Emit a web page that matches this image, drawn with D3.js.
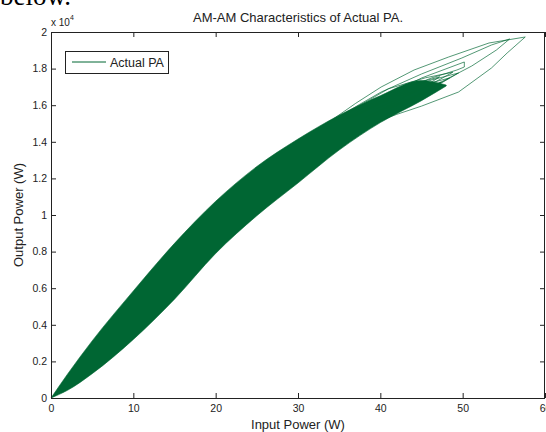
<!DOCTYPE html>
<html lang="en">
  <head>
    <meta charset="UTF-8">
    <title>AM-AM Characteristics of Actual PA.</title>
    <script src="https://cdn.jsdelivr.net/npm/d3@7"></script>
    <style>
      html, body {
        margin: 0;
        padding: 0;
        background: #fff;
      }
      svg {
        display: block;
        font-family: 'Liberation Sans', Arial, sans-serif;
      }
    </style>
  </head>
  <body>
    <script>
      // axis ticks
      const xTicks = [0, 10, 20, 30, 40, 50, 60];
      const yTicks = [0, 2000, 4000, 6000, 8000, 10000, 12000, 14000, 16000, 18000, 20000];
      const yTickLabels = ['0', '0.2', '0.4', '0.6', '0.8', '1', '1.2', '1.4', '1.6', '1.8', '2'];

      // edges of the dense band, read at common input powers (W)
      const bandP = [0, 2, 5, 10, 15, 20, 25, 30, 35, 40, 45, 48];
      const bandUpper = [0, 1300, 3120, 5850, 8450, 10750, 12650, 14150, 15450, 16520, 17350, 17100];
      const bandLower = [0, 420, 1330, 3200, 5400, 7900, 9960, 11750, 13550, 15050, 16250, 17050];

      // single traces sticking out of the band at high drive
      const loopA = [[33.5, 15000], [37, 16100], [40.1, 16995], [44.1, 17923], [48.3, 18634], [53.2, 19399], [57.6, 19727],
                     [55.4, 18852], [53.5, 18033], [49.5, 16721], [45.0, 15950], [42, 15500], [39, 15000]];
      const loopB = [[34, 15100], [37.5, 16050], [40.1, 16721], [45.0, 17705], [49.9, 18579], [53.5, 19290], [55.7, 19617],
                     [54.1, 19016], [51.1, 18142], [47.4, 17268], [43.8, 16393], [40, 15700]];
      const loopC = [[36, 15300], [40.1, 16393], [45.0, 17486], [50.2, 18361], [50.2, 18087], [49.3, 17923], [46.2, 17486], [42.6, 16831], [39, 16000]];
      const loopD = [[37.7, 15628], [42.6, 16721], [46.2, 17377], [49.5, 17760], [47.4, 17213], [43.8, 16393], [40.1, 15738]];
      const loopE = [[36.5, 15301], [41.3, 16393], [45.6, 17158], [48.4, 17486], [46.2, 16940], [42.6, 16175], [38.9, 15464]];
      const loopF = [[35.2, 15082], [40.1, 16120], [44.4, 16831], [47.4, 17268], [45.0, 16557], [41.3, 15847], [37.7, 15082]];
      const loopG = [[36, 15600], [41, 16900], [45.5, 17500], [48.8, 17800], [46.8, 17300], [43, 16500], [39.5, 15800]];
      const loopH = [[34, 15000], [39, 16300], [43.5, 17100], [47.2, 17550], [45.3, 17000], [41.8, 16150], [38, 15300]];
      const loops = [loopA, loopB, loopC, loopD, loopE, loopF, loopG, loopH];

      const width = 546, height = 432;
      const margin = {left: 51, right: 1, top: 32, bottom: 34};
      const green = '#006633';
      const axisColor = '#222';

      const svg = d3.select('body').append('svg')
        .attr('width', width)
        .attr('height', height);

      const x = d3.scaleLinear().domain([0, 60]).range([margin.left, width - margin.right]);
      const y = d3.scaleLinear().domain([0, 20000]).range([height - margin.bottom, margin.top]);

      // band
      const area = d3.area()
        .x((d, i) => x(bandP[i]))
        .y0((d, i) => y(bandLower[i]))
        .y1((d, i) => y(bandUpper[i]))
        .curve(d3.curveMonotoneX);

      svg.append('path')
        .attr('d', area(bandP))
        .attr('fill', green)
        .attr('stroke', green)
        .attr('stroke-width', 0.6);

      const line = d3.line()
        .x(d => x(d[0]))
        .y(d => y(d[1]));

      svg.append('g')
        .selectAll('path')
        .data(loops)
        .enter()
        .append('path')
        .attr('d', d => line(d))
        .attr('fill', 'none')
        .attr('stroke', green)
        .attr('stroke-width', 0.8)
        .attr('stroke-opacity', 0.85);

      // axes, ticks pointing inward
      function styleAxis(g) {
        g.selectAll('path, line').attr('stroke', axisColor);
        g.selectAll('text').attr('fill', axisColor).style('font-size', '10.5px');
      }

      svg.append('g')
        .attr('transform', `translate(0, ${y(0)})`)
        .call(d3.axisBottom(x).tickValues(xTicks).tickSize(-5).tickSizeOuter(0).tickPadding(7))
        .call(styleAxis)
        .call(g => g.select('.domain').remove());

      svg.append('g')
        .attr('transform', `translate(0, ${y(20000)})`)
        .call(d3.axisTop(x).tickValues(xTicks).tickSize(-5).tickSizeOuter(0).tickFormat(''))
        .call(styleAxis)
        .call(g => g.select('.domain').remove());

      svg.append('g')
        .attr('transform', `translate(${x(0)}, 0)`)
        .call(d3.axisLeft(y).tickValues(yTicks).tickSize(-5).tickSizeOuter(0).tickPadding(4)
          .tickFormat((d, i) => yTickLabels[i]))
        .call(styleAxis)
        .call(g => g.select('.domain').remove());

      svg.append('g')
        .attr('transform', `translate(${x(60)}, 0)`)
        .call(d3.axisRight(y).tickValues(yTicks).tickSize(-5).tickSizeOuter(0).tickFormat(''))
        .call(styleAxis)
        .call(g => g.select('.domain').remove());

      // plot box
      svg.append('rect')
        .attr('x', x(0) + 0.5)
        .attr('y', y(20000) + 0.5)
        .attr('width', x(60) - x(0) - 1)
        .attr('height', y(0) - y(20000))
        .attr('fill', 'none')
        .attr('stroke', axisColor);

      // exponent
      const expo = svg.append('text')
        .attr('x', 51)
        .attr('y', 26)
        .attr('fill', axisColor)
        .style('font-size', '10px');
      expo.append('tspan').text('x 10');
      expo.append('tspan').attr('dy', -6).style('font-size', '7px').text('4');

      // titles
      svg.append('text')
        .attr('x', (x(0) + x(60)) / 2)
        .attr('y', 22)
        .attr('text-anchor', 'middle')
        .attr('fill', axisColor)
        .style('font-size', '13px')
        .text('AM-AM Characteristics of Actual PA.');

      svg.append('text')
        .attr('x', (x(0) + x(60)) / 2)
        .attr('y', 429)
        .attr('text-anchor', 'middle')
        .attr('fill', axisColor)
        .style('font-size', '13px')
        .text('Input Power (W)');

      svg.append('text')
        .attr('transform', `translate(23, ${(y(0) + y(20000)) / 2}) rotate(-90)`)
        .attr('text-anchor', 'middle')
        .attr('fill', axisColor)
        .style('font-size', '13px')
        .text('Output Power (W)');

      // legend
      const legend = svg.append('g');
      legend.append('rect')
        .attr('x', 65.5)
        .attr('y', 51.5)
        .attr('width', 103)
        .attr('height', 22)
        .attr('fill', '#fff')
        .attr('stroke', axisColor);
      legend.append('line')
        .attr('x1', 72)
        .attr('x2', 106)
        .attr('y1', 62)
        .attr('y2', 62)
        .attr('stroke', green);
      legend.append('text')
        .attr('x', 110)
        .attr('y', 67)
        .attr('fill', axisColor)
        .style('font-size', '12.5px')
        .text('Actual PA');

      // surrounding document text, cut at the top edge
      svg.append('text')
        .attr('x', 0)
        .attr('y', 5)
        .attr('fill', '#000')
        .style('font-family', "'Liberation Serif', 'Times New Roman', serif")
        .style('font-size', '27px')
        .text('below.');
    </script>
  </body>
</html>
